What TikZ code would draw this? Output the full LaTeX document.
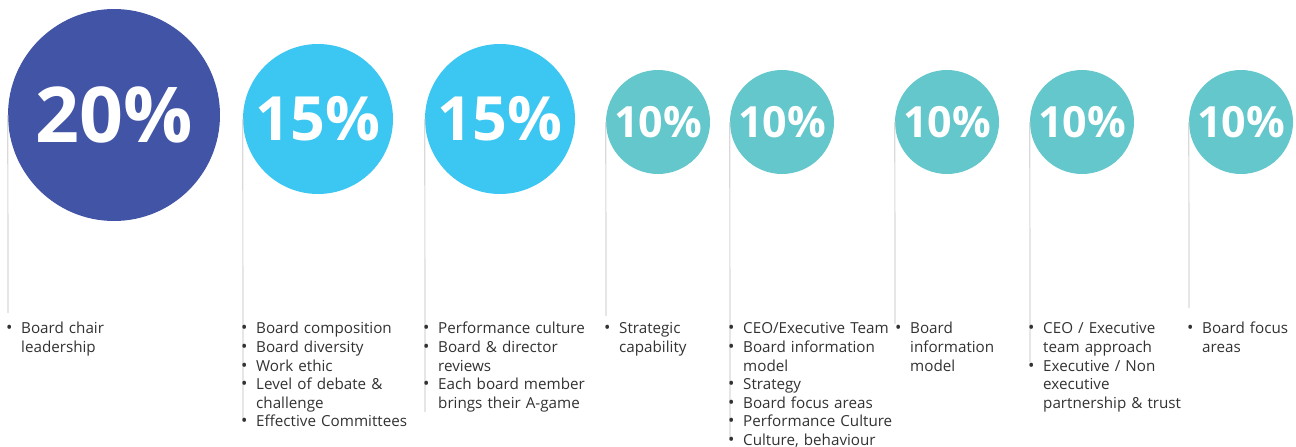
\documentclass[tikz,border=0pt]{standalone}
\usepackage{fontspec}
\setmainfont{Open Sans}
\usetikzlibrary{positioning}
\definecolor{navy}{RGB}{66,84,166}
\definecolor{sky}{RGB}{60,198,242}
\definecolor{aqua}{RGB}{99,199,203}
\definecolor{stemgray}{RGB}{217,217,217}
\definecolor{txt}{RGB}{50,50,50}
% first line of an item, and a wrapped line of it
\newcommand{\pnt}{\par\noindent\makebox[15pt][l]{\fontsize{17}{17}\selectfont\textbullet}}
\newcommand{\cnt}{\par\noindent\hspace*{15pt}}
\begin{document}
\begin{tikzpicture}[x=1pt, y=-1pt,
        pct/.style={circle, inner sep=0pt, text=white},
        pctbig/.style={pct, fill=navy, minimum size=212pt, font=\bfseries\fontsize{77}{77}\selectfont},
        pctmid/.style={pct, fill=sky, minimum size=150pt, font=\bfseries\fontsize{61}{61}\selectfont},
        pctsmall/.style={pct, fill=aqua, minimum size=104pt, font=\bfseries\fontsize{43}{43}\selectfont},
        stem/.style={draw=stemgray, line width=1.2pt},
        list/.style={anchor=north west, inner sep=0pt, text width=190pt, text=txt, font=\fontsize{15.2}{18.6}\selectfont}]
    \useasboundingbox (0,0) rectangle (1296,447);
    % ends of the stems
    \coordinate (e1) at (8,313);
    \coordinate (e2) at (243,421);
    \coordinate (e3) at (425,412);
    \coordinate (e4) at (606,316);
    \coordinate (e5) at (730,440);
    \coordinate (e6) at (895,324);
    \coordinate (e7) at (1030,362);
    \coordinate (e8) at (1189,308);
    % circles
    \node [pctbig] (c1) at (114,115) {20\%};
    \node [pctmid] (c2) at (318,119) {15\%};
    \node [pctmid] (c3) at (500,119) {15\%};
    \node [pctsmall] (c4) at (658,122) {10\%};
    \node [pctsmall] (c5) at (782,122) {10\%};
    \node [pctsmall] (c6) at (947,122) {10\%};
    \node [pctsmall] (c7) at (1082,122) {10\%};
    \node [pctsmall] (c8) at (1241,122) {10\%};
    % stems
    \draw [stem] (c1.west) -- (e1);
    \draw [stem] (c2.west) -- (e2);
    \draw [stem] (c3.west) -- (e3);
    \draw [stem] (c4.west) -- (e4);
    \draw [stem] (c5.west) -- (e5);
    \draw [stem] (c6.west) -- (e6);
    \draw [stem] (c7.west) -- (e7);
    \draw [stem] (c8.west) -- (e8);
    % bullet lists
    \node [list] (l1) at (6,315) {\pnt Board chair \cnt leadership};
    \node [list] (l2) at (241,315) {\pnt Board composition
        \pnt Board diversity
        \pnt Work ethic
        \pnt Level of debate \& \cnt challenge
        \pnt Effective Committees};
    \node [list] (l3) at (423,315) {\pnt Performance culture
        \pnt Board \& director \cnt reviews
        \pnt Each board member \cnt brings their A-game};
    \node [list] (l4) at (604,315) {\pnt Strategic \cnt capability};
    \node [list] (l5) at (728,315) {\pnt CEO/Executive Team
        \pnt Board information \cnt model
        \pnt Strategy
        \pnt Board focus areas
        \pnt Performance Culture
        \pnt Culture, behaviour};
    \node [list] (l6) at (895,315) {\pnt Board \cnt information \cnt model};
    \node [list] (l7) at (1028,315) {\pnt CEO / Executive \cnt team approach
        \pnt Executive / Non \cnt executive \cnt partnership \& trust};
    \node [list] (l8) at (1187,315) {\pnt Board focus \cnt areas};
\end{tikzpicture}
\end{document}
